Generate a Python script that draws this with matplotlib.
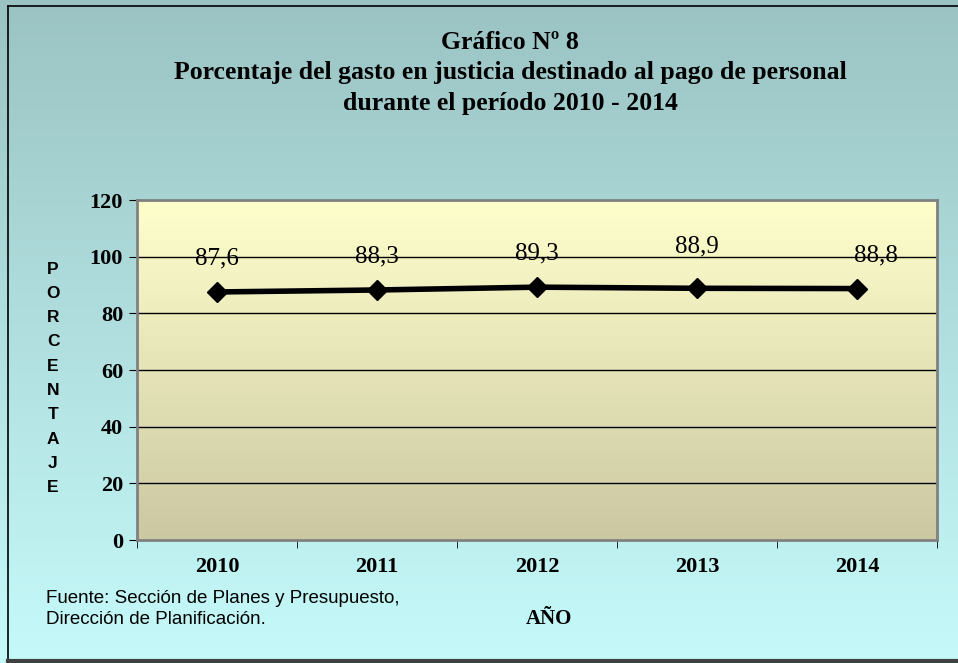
import numpy as np
import matplotlib
matplotlib.use("Agg")
from matplotlib import pyplot as plt
from matplotlib.colors import LinearSegmentedColormap

# datos del grafico
years = ["2010", "2011", "2012", "2013", "2014"]
values = [87.6, 88.3, 89.3, 88.9, 88.8]
labels = ["87,6", "88,3", "89,3", "88,9", "88,8"]
yticks = [0, 20, 40, 60, 80, 100, 120]

title = "Gráfico Nº 8\nPorcentaje del gasto en justicia destinado al pago de personal\ndurante el período 2010 - 2014"
ylabel = "PORCENTAJE"
xlabel = "AÑO"
source = "Fuente: Sección de Planes y Presupuesto,\nDirección de Planificación."

serif = "Liberation Serif"
sans = "Liberation Sans"

fig = plt.figure(figsize=(9.58, 6.63), dpi=100)

# fondo con degradado
bg = fig.add_axes([0, 0, 1, 1], zorder=-10)
bg_cmap = LinearSegmentedColormap.from_list("bg", ["#9bc3c3", "#c6fafa"])
bg.imshow(np.linspace(0, 1, 256).reshape(-1, 1), cmap=bg_cmap, aspect="auto",
          extent=[0, 1, 0, 1], origin="upper")
bg.set_xlim(0, 1), bg.set_ylim(0, 1)
bg.axis("off")
bg.plot([0.008, 0.008], [0.003, 0.991], color="black", lw=1.2)
bg.plot([0.008, 1.0], [0.991, 0.991], color="black", lw=1.2)
bg.plot([0.008, 1.0], [0.003, 0.003], color="#404040", lw=3)

ax = fig.add_axes([0.143, 0.1855, 0.835, 0.5125])
plot_cmap = LinearSegmentedColormap.from_list("pa", ["#ffffcc", "#cbc8a2"])
ax.imshow(np.linspace(0, 1, 256).reshape(-1, 1), cmap=plot_cmap, aspect="auto",
          extent=[0, 1, 0, 1], transform=ax.transAxes, zorder=0, origin="upper")

x = np.arange(len(years))
ax.plot(x, values, color="black", lw=4, marker="D", markersize=10, zorder=3)

label_dx = [0, 0, 0, 0, 14]
label_dy = [24, 24, 24, 30, 24]
for xi, v, lab, dx, dy in zip(x, values, labels, label_dx, label_dy):
    ax.annotate(lab, (xi, v), xytext=(dx, dy), textcoords="offset points",
                ha="center", va="center", fontsize=18, family=serif, zorder=4)

ax.set_xlim(-0.5, len(years) - 0.5)
ax.set_ylim(0, 120)
ax.set_yticks(yticks)
ax.set_yticklabels([str(t) for t in yticks], fontsize=16, fontweight="bold", family=serif)
for t in yticks[1:-1]:
    ax.axhline(t, color="black", lw=1, zorder=1)

ax.set_xticks(x)
ax.set_xticklabels(years, fontsize=16, fontweight="bold", family=serif)
ax.set_xticks(np.arange(-0.5, len(years), 1), minor=True)
ax.tick_params(axis="x", which="major", length=0, pad=12)
ax.tick_params(axis="x", which="minor", length=6, color="black")
ax.tick_params(axis="y", length=6, color="black", pad=4)

for s in ax.spines.values():
    s.set_color("#808080")
    s.set_linewidth(2)

fig.text(510 / 958, 1 - 73 / 663, title, ha="center", va="center", fontsize=18.5,
         fontweight="bold", family=serif, linespacing=1.43)

# etiqueta vertical letra por letra
for i, ch in enumerate(ylabel):
    fig.text(53 / 958, 1 - (269 + i * 24.3) / 663, ch, ha="center", va="center",
             fontsize=12.5, fontweight="bold", family=sans)

fig.text(549 / 958, 1 - 619 / 663, xlabel, ha="center", va="center",
         fontsize=15, fontweight="bold", family=serif)
fig.text(46 / 958, 1 - 609 / 663, source, ha="left", va="center",
         fontsize=13.5, family=sans, linespacing=1.3)

fig.savefig("out.png", dpi=100)
